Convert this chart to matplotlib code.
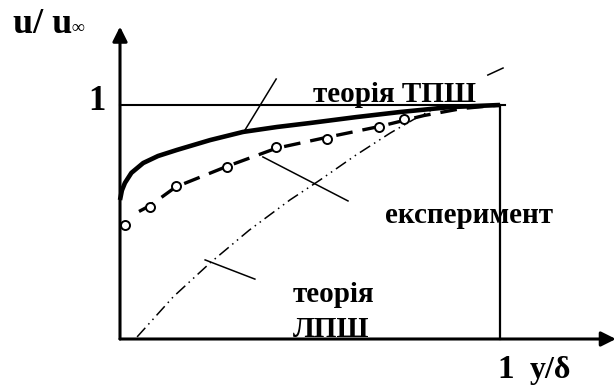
import matplotlib
matplotlib.use("Agg")
import matplotlib.pyplot as plt

plt.rcParams['font.family'] = ['Liberation Serif', 'DejaVu Serif']
plt.rcParams['font.weight'] = 'bold'

# turbulent boundary layer (ТПШ), solid curve
y_turb = [0.0, 0.005, 0.013, 0.03, 0.061, 0.10, 0.15, 0.237, 0.324, 0.413, 0.5, 0.62, 0.737, 0.868, 1.0]
u_turb = [0.594, 0.635, 0.667, 0.71, 0.752, 0.782, 0.808, 0.850, 0.885, 0.906, 0.923, 0.948, 0.970, 0.991, 1.0]

# experiment points
y_exp = [0.013, 0.079, 0.147, 0.282, 0.411, 0.545, 0.682, 0.747]
u_exp = [0.487, 0.564, 0.654, 0.735, 0.821, 0.855, 0.906, 0.940]

# dashed line through the experiment
y_fit = [0.05, 0.079, 0.147, 0.282, 0.411, 0.545, 0.682, 0.80, 0.90, 1.0]
u_fit = [0.545, 0.570, 0.650, 0.738, 0.815, 0.862, 0.908, 0.955, 0.985, 1.0]

# laminar boundary layer (ЛПШ), dash-dot-dot curve
y_lam = [0.045, 0.14, 0.237, 0.34, 0.447, 0.526, 0.62, 0.711, 0.78, 0.834, 0.9, 1.0]
u_lam = [0.009, 0.18, 0.325, 0.465, 0.594, 0.679, 0.785, 0.880, 0.945, 0.990, 1.0, 1.0]

# leader lines from labels to curves
leaders = [
    [(0.324, 0.880), (0.411, 1.111)],
    [(0.968, 1.128), (1.008, 1.158)],
    [(0.376, 0.778), (0.600, 0.590)],
    [(0.224, 0.338), (0.355, 0.256)],
]

fig = plt.figure(figsize=(6.16, 3.88), dpi=100)
ax = fig.add_axes([0, 0, 1, 1])
ax.set_xlim(-0.3158, 1.3053)
ax.set_ylim(-0.2094, 1.4487)
ax.axis('off')

# axes with arrows
ax.annotate('', xy=(0, 1.335), xytext=(0, 0),
            arrowprops=dict(arrowstyle='-|>', lw=2.2, color='k', mutation_scale=22, shrinkA=0, shrinkB=0))
ax.annotate('', xy=(1.305, 0), xytext=(0, 0),
            arrowprops=dict(arrowstyle='-|>', lw=2.2, color='k', mutation_scale=22, shrinkA=0, shrinkB=0))

# frame at u=1 and y=delta
ax.plot([0, 1.012], [1, 1], color='k', lw=1.5)
ax.plot([1, 1], [0, 1], color='k', lw=1.6)

ax.plot(y_turb, u_turb, color='k', lw=3.3, solid_capstyle='butt')
ax.plot(y_fit, u_fit, color='k', lw=2.4, linestyle=(0, (5, 3)))
ax.plot(y_exp, u_exp, linestyle='none', marker='o', markersize=6.5,
        markerfacecolor='white', markeredgecolor='k', markeredgewidth=1.4, zorder=5)
ax.plot(y_lam, u_lam, color='k', lw=1.1, linestyle=(0, (8, 3, 1, 3, 1, 3)))

for seg in leaders:
    ax.plot([seg[0][0], seg[1][0]], [seg[0][1], seg[1][1]], color='k', lw=1.1)

ax.text(-0.282, 1.308, 'u/ u', fontsize=26, ha='left', va='baseline')
ax.text(-0.128, 1.308, '∞', fontsize=13, ha='left', va='baseline')
ax.text(-0.037, 0.979, '1', fontsize=25, ha='right', va='baseline')
ax.text(0.508, 1.013, 'теорія ТПШ', fontsize=21, ha='left', va='baseline')
ax.text(0.697, 0.496, 'експеримент', fontsize=21, ha='left', va='baseline')
ax.text(0.455, 0.158, 'теорія', fontsize=21, ha='left', va='baseline')
ax.text(0.455, 0.0085, 'ЛПШ', fontsize=21, ha='left', va='baseline')
ax.text(0.992, -0.168, '1', fontsize=24, ha='left', va='baseline')
ax.text(1.079, -0.168, 'y/δ', fontsize=23, ha='left', va='baseline')

fig.savefig('out.png', dpi=100)
